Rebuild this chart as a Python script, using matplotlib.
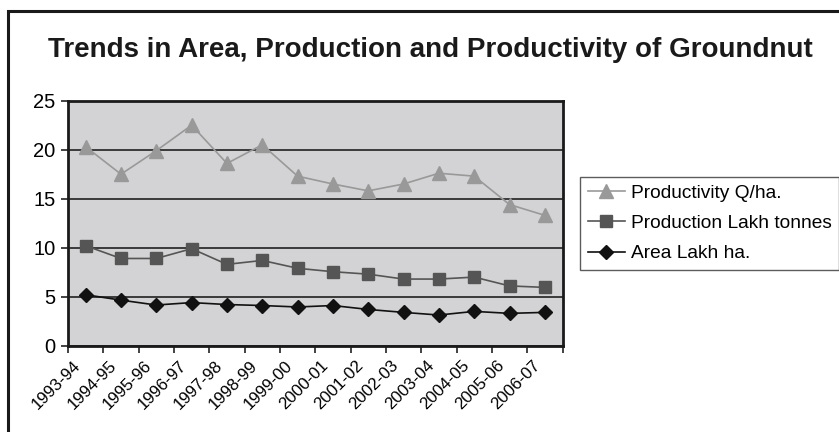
import matplotlib
matplotlib.use("Agg")
import matplotlib.pyplot as plt
from matplotlib.patches import Rectangle
from matplotlib.transforms import ScaledTranslation

plt.rcParams["font.family"] = ["Liberation Sans", "DejaVu Sans"]

# data
years = ["1993-94", "1994-95", "1995-96", "1996-97", "1997-98", "1998-99", "1999-00",
         "2000-01", "2001-02", "2002-03", "2003-04", "2004-05", "2005-06", "2006-07"]
productivity = [20.3, 17.5, 19.9, 22.5, 18.6, 20.5, 17.3, 16.5, 15.8, 16.5, 17.6, 17.3, 14.4, 13.3]
production = [10.2, 8.9, 8.9, 9.9, 8.3, 8.7, 7.9, 7.55, 7.3, 6.8, 6.8, 7.0, 6.1, 5.95]
area = [5.2, 4.65, 4.15, 4.4, 4.2, 4.1, 3.95, 4.1, 3.7, 3.4, 3.13, 3.5, 3.3, 3.4]

W, H = 839, 432
fig = plt.figure(figsize=(W / 100, H / 100), dpi=100)

# outer frame (only left and top edges visible in the crop)
fig.patches.append(Rectangle((8 / W, -0.2), 1.5, 1.2 - 10.5 / H, transform=fig.transFigure,
                             fill=False, edgecolor="#1a1a1a", linewidth=2.2))

ax = fig.add_axes([68 / W, 1 - 345.7 / H, (562.5 - 68) / W, (345.7 - 100.7) / H])
ax.set_facecolor("#d3d3d5")

x = range(len(years))
ax.plot(x, productivity, color="#999999", marker="^", markersize=10, linewidth=1.2,
        label="Productivity Q/ha.")
ax.plot(x, production, color="#555555", marker="s", markersize=8.5, linewidth=1.2,
        label="Production Lakh tonnes")
ax.plot(x, area, color="#111111", marker="D", markersize=7, linewidth=1.2,
        label="Area Lakh ha.")

ax.set_xlim(-0.5, len(years) - 0.5)
ax.set_ylim(0, 25)
ax.set_yticks([0, 5, 10, 15, 20, 25])
ax.yaxis.grid(True, color="#111111", linewidth=1.1)
ax.set_axisbelow(True)

# category boundaries as ticks, labels drawn slanted under each category
ax.set_xticks([i - 0.5 for i in range(len(years) + 1)])
ax.set_xticklabels([])
ax.tick_params(axis="x", length=5, width=1.2, color="#222222")
ax.tick_params(axis="y", length=5, width=1.2, color="#222222", labelsize=14.5, pad=4)

lab_tr = ax.get_xaxis_transform() + ScaledTranslation(-12.5 / 100, -12 / 100, fig.dpi_scale_trans)
for i, yr in enumerate(years):
    ax.text(i, 0, yr, transform=lab_tr, rotation=45, ha="right", va="top",
            rotation_mode="anchor", fontsize=12.2, clip_on=False)

for s in ax.spines.values():
    s.set_linewidth(2)
    s.set_color("#1a1a1a")

fig.text(430 / W, 1 - 50 / H, "Trends in Area, Production and Productivity of Groundnut",
         ha="center", va="center", fontsize=20, fontweight="bold", color="#1a1a1a")

leg = fig.legend(loc="upper left", bbox_to_anchor=(580 / W, 1 - 177 / H), fontsize=13.8,
                 frameon=True, fancybox=False, borderaxespad=0, handlelength=1.95,
                 handletextpad=0.3, labelspacing=0.66, borderpad=0.4)
leg.get_frame().set_edgecolor("#333333")
leg.get_frame().set_linewidth(1)

fig.savefig("out.png", dpi=100)
